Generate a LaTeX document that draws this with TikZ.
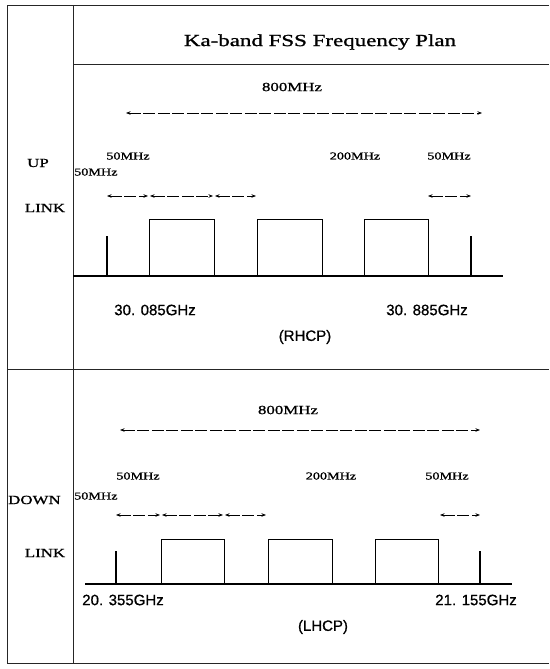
\documentclass[tikz,border=0pt]{standalone}
\usepackage{fontspec}
\setmainfont{Liberation Serif}[FakeStretch=1.35,FakeBold=1.2]
\newfontfamily\gothic{Liberation Sans}[FakeBold=0.8]
\usetikzlibrary{arrows.meta}
\tikzset{
  frameline/.style={line width=0.8pt,draw=black!85},
  bandaxis/.style={line width=1.4pt},
  chan/.style={line width=1pt},
  spike/.style={line width=1.2pt},
  dimarr/.style={{Stealth[length=4.5pt,width=3.5pt]}-{Stealth[length=4.5pt,width=3.5pt]},line width=0.7pt,dash pattern=on 12pt off 2.5pt},
  ttl/.style={inner sep=0pt,font=\fontsize{17}{19}\selectfont},
  span/.style={inner sep=0pt,font=\fontsize{12.5}{14}\selectfont},
  bwlbl/.style={inner sep=0pt,font=\fontsize{10.5}{12}\selectfont},
  linklbl/.style={inner sep=0pt,font=\fontsize{12.5}{14}\selectfont},
  freq/.style={inner sep=0pt,font=\gothic\fontsize{15}{17}\selectfont},
}

\begin{document}
\begin{tikzpicture}[x=1pt,y=-1pt]
  \useasboundingbox (0,0) rectangle (549,669);

  % table frame
  \draw[frameline] (549,5) -- (7,5) -- (7,663) -- (549,663);
  \draw[frameline] (73,5) -- (73,663);
  \draw[frameline] (73,64) -- (549,64);
  \draw[frameline] (7,369) -- (549,369);
  \node[ttl] (title) at (320,42) {Ka-band FSS Frequency Plan};

  % up link
  \node[linklbl] (up) at (38,163) {UP};
  \node[linklbl] (uplink) at (45,208) {LINK};
  \node[span] (ubw) at (292,87) {800MHz};
  \node[bwlbl] (ug1) at (128,156) {50MHz};
  \node[bwlbl] (uch) at (355,156) {200MHz};
  \node[bwlbl] (ug2) at (449,156) {50MHz};
  \node[bwlbl,anchor=west] (ugap) at (74,172) {50MHz};
  \coordinate (us0) at (126,113);
  \coordinate (us1) at (482,113);
  \draw[dimarr] (us0) -- (us1);
  \coordinate (ua) at (107,196);
  \coordinate (ub) at (149,196);
  \coordinate (uc) at (214,196);
  \coordinate (ud) at (256,196);
  \coordinate (ue) at (428,196);
  \coordinate (uf) at (471,196);
  \draw[dimarr] (ua) -- ([xshift=-1pt]ub);
  \draw[dimarr] ([xshift=1pt]ub) -- ([xshift=-1pt]uc);
  \draw[dimarr] ([xshift=1pt]uc) -- (ud);
  \draw[dimarr] (ue) -- (uf);
  \draw[bandaxis] (73,276) -- (503,276);
  \draw[spike] (107,276) -- (107,236);
  \draw[spike] (471,276) -- (471,236);
  \foreach \l/\r in {149/214,257/322,364/428}
    \draw[chan] (\l,276) |- (\r,219) -- (\r,276);
  \node[freq] (ulo) at (155,310) {30. 085GHz};
  \node[freq] (uhi) at (427,310) {30. 885GHz};
  \node[freq] (rhcp) at (305,337) {(RHCP)};

  % down link
  \node[linklbl,anchor=west] (down) at (8,500) {DOWN};
  \node[linklbl] (downlink) at (45,553) {LINK};
  \node[span] (dbw) at (288,410) {800MHz};
  \node[bwlbl] (dg1) at (138,476) {50MHz};
  \node[bwlbl] (dch) at (331,476) {200MHz};
  \node[bwlbl] (dg2) at (447,476) {50MHz};
  \node[bwlbl,anchor=west] (dgap) at (74,496) {50MHz};
  \coordinate (ds0) at (120,430);
  \coordinate (ds1) at (480,430);
  \draw[dimarr] (ds0) -- (ds1);
  \coordinate (da) at (116,515);
  \coordinate (db) at (161,515);
  \coordinate (dc) at (224,515);
  \coordinate (dd) at (266,515);
  \coordinate (de) at (440,515);
  \coordinate (df) at (480,515);
  \draw[dimarr] (da) -- ([xshift=-1pt]db);
  \draw[dimarr] ([xshift=1pt]db) -- ([xshift=-1pt]dc);
  \draw[dimarr] ([xshift=1pt]dc) -- (dd);
  \draw[dimarr] (de) -- (df);
  \draw[bandaxis] (85,584) -- (512,584);
  \draw[spike] (116,584) -- (116,551);
  \draw[spike] (480,584) -- (480,551);
  \foreach \l/\r in {161/224,268/332,375/438}
    \draw[chan] (\l,584) |- (\r,539) -- (\r,584);
  \node[freq] (dlo) at (123,600) {20. 355GHz};
  \node[freq] (dhi) at (476,600) {21. 155GHz};
  \node[freq] (lhcp) at (323,627) {(LHCP)};
\end{tikzpicture}
\end{document}
